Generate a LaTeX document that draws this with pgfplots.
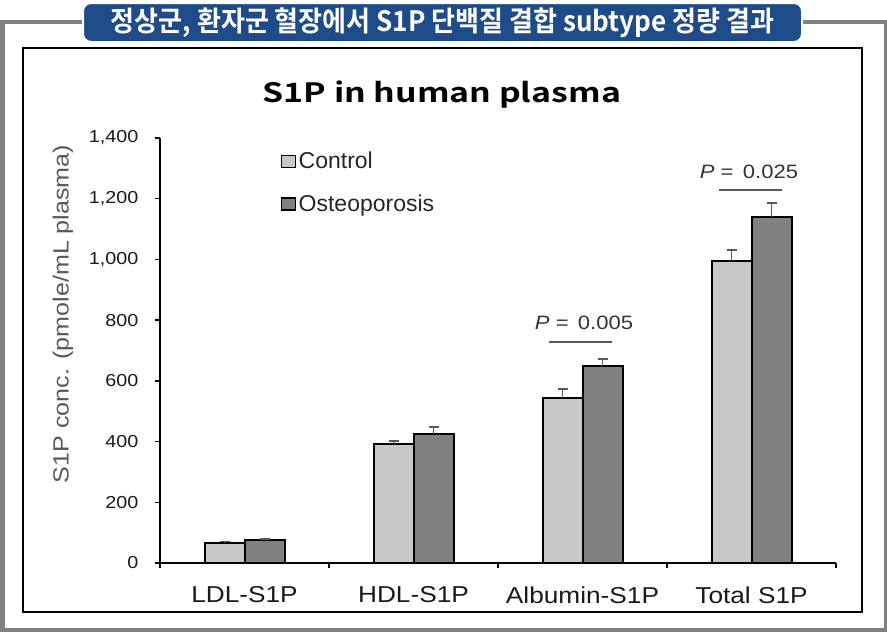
\documentclass[border=0pt]{standalone}
\usepackage{pgfplots}
\pgfplotsset{compat=1.18}
\usepackage{pgfplotstable}
\usepackage{fontspec}
\setmainfont{Liberation Sans}
\newfontfamily\chartfont{Liberation Sans}[FakeStretch=1.14]
\newfontfamily\krfont{Noto Sans CJK KR Bold}
\definecolor{banner}{RGB}{31,76,136}
\definecolor{ctrl}{RGB}{200,200,200}
\definecolor{osteo}{RGB}{128,128,128}
\definecolor{framegray}{RGB}{128,128,128}

\pgfplotstableread{
x ctrl ctrlerr osteo osteoerr
0 66 4 76 3
1 392 10 425 23
2 543 30 649 23
3 995 36 1140 46
}\datatable

\begin{document}
\begin{tikzpicture}
\begin{scope}[x=0.75pt,y=-0.75pt]
\useasboundingbox (0,0) rectangle (887,632);
\draw[framegray, line width=3pt] (2.5,21.5) rectangle (885.5,630);
\draw[black, line width=1.1pt] (23,48) rectangle (862,612);
\draw[white, line width=1.5pt, fill=banner, rounded corners=6pt] (83,3) rectangle (802,42);
\node[text=white, inner sep=0pt] at (442.5,22.5) {\scalebox{0.93}[1]{\krfont\fontsize{21pt}{22pt}\selectfont 정상군, 환자군 혈장에서 S1P 단백질 결합 subtype 정량 결과}};
\end{scope}
\begin{axis}[
  at={(120pt,-422.25pt)}, anchor=south west,
  width=507pt, height=318.75pt, scale only axis,
  xmin=-0.5, xmax=3.5, ymin=0, ymax=1400,
  axis x line*=bottom, axis y line*=left,
  axis line style={line width=1.3pt, black},
  ybar=0pt, bar width=30pt,
  xtick={-0.5,0.5,1.5,2.5,3.5}, xticklabels={,,,,},
  extra x ticks={0,1,2,3},
  extra x tick labels={LDL-S1P,HDL-S1P,Albumin-S1P,Total S1P},
  extra x tick style={major tick length=0pt},
  ytick={0,200,...,1400},
  tick align=outside, major tick length=3.75pt,
  tick style={line width=1pt, black},
  /pgf/number format/1000 sep={,},
  /pgf/number format/assume math mode=true,
  yticklabel style={font=\chartfont\fontsize{13pt}{14pt}\selectfont, text=black!90, xshift=-9pt},
  xticklabel style={font=\chartfont\fontsize{17.25pt}{18pt}\selectfont, text=black!90, anchor=center, yshift=-24pt},
  title={\scalebox{1.27}[1]{S1P in human plasma}},
  title style={font=\krfont\fontsize{20pt}{22pt}\selectfont, at={(axis description cs:0.417,1.083)}, anchor=center},
  ylabel={S1P conc. (pmole/mL plasma)},
  ylabel style={font=\chartfont\fontsize{16.5pt}{18pt}\selectfont, text=black!65, at={(axis description cs:-0.1435,0.586)}, anchor=center},
  legend style={draw=none, fill=none, at={(axis description cs:0.172,0.98)}, anchor=north west,
    font=\fontsize{17.25pt}{18pt}\selectfont, text=black!85, row sep=14pt},
  legend cell align=left,
  legend image code/.code={\draw[#1, line width=1.1pt] (0pt,-4.5pt) rectangle (10.5pt,4.5pt);},
]
\addplot[fill=ctrl, draw=black, line width=1.5pt,
  error bars/.cd, y dir=plus, y explicit,
  error bar style={line width=1.1pt, black!65},
  error mark options={rotate=90, mark size=3.75pt, line width=1.1pt, black!65}]
  table[x=x, y=ctrl, y error=ctrlerr] {\datatable};
\addplot[fill=osteo, draw=black, line width=1.5pt,
  error bars/.cd, y dir=plus, y explicit,
  error bar style={line width=1.1pt, black!65},
  error mark options={rotate=90, mark size=3.75pt, line width=1.1pt, black!65}]
  table[x=x, y=osteo, y error=osteoerr] {\datatable};
\legend{Control,Osteoporosis}
\draw[line width=1.1pt, black!65] (axis cs:1.80,728) -- (axis cs:2.175,728);
\draw[line width=1.1pt, black!65] (axis cs:2.808,1229) -- (axis cs:3.18,1229);
\node[font=\chartfont\fontsize{14.5pt}{16pt}\selectfont, text=black!80] at (axis cs:2.009,790) {\textit{P} = \,0.005};
\node[font=\chartfont\fontsize{14.5pt}{16pt}\selectfont, text=black!80] at (axis cs:2.985,1288) {\textit{P} = \,0.025};
\end{axis}
\end{tikzpicture}
\end{document}
